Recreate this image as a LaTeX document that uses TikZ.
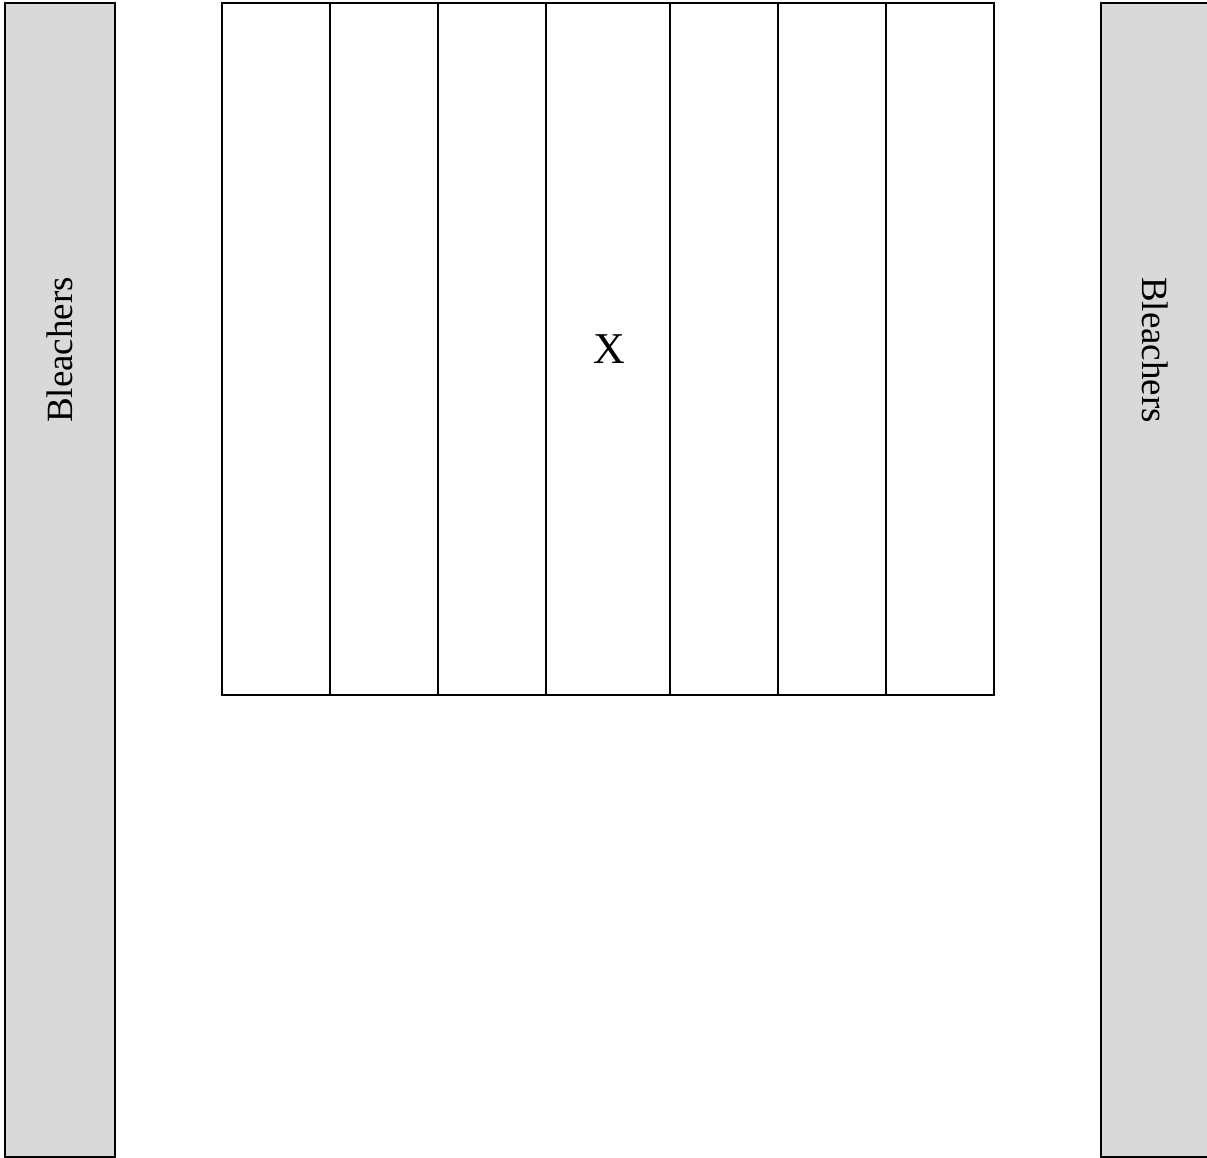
\documentclass[tikz,border=0pt]{standalone}
\usepackage{fontspec}
\setmainfont{Liberation Serif}
\usetikzlibrary{positioning}
\definecolor{standgray}{RGB}{217,217,217}
\tikzset{
  stand/.style={draw, line width=1.5pt, fill=standgray},
  standlab/.style={font=\fontsize{37}{44}\selectfont, inner sep=0pt},
  lane/.style={draw, line width=1.5pt, minimum height=692pt, inner sep=0pt,
               outer sep=0pt},
  narrow/.style={lane, minimum width=108pt},
  wide/.style={lane, minimum width=124pt},
  spotlab/.style={font=\fontsize{44}{52}\selectfont, inner sep=0pt},
}

\begin{document}
\begin{tikzpicture}[x=1pt, y=-1pt]
  \useasboundingbox (0,0) rectangle (1207,1158);
  % bleachers on both sides
  \draw[stand] (5,3) rectangle (115,1157);
  \draw[stand] (1101,3) rectangle (1215,1157);
  \node[standlab, rotate=90] (leftstand) at (60,350) {Bleachers};
  \node[standlab, rotate=-90] (rightstand) at (1155,350) {Bleachers};
  % the lanes
  \node[narrow] (lane1) at (276,349) {};
  \node[narrow, right=0pt of lane1] (lane2) {};
  \node[narrow, right=0pt of lane2] (lane3) {};
  \node[wide, right=0pt of lane3] (lane4) {};
  \node[narrow, right=0pt of lane4] (lane5) {};
  \node[narrow, right=0pt of lane5] (lane6) {};
  \node[narrow, right=0pt of lane6] (lane7) {};
  \node[spotlab] (spot) at (609,349.5) {X};
\end{tikzpicture}
\end{document}
